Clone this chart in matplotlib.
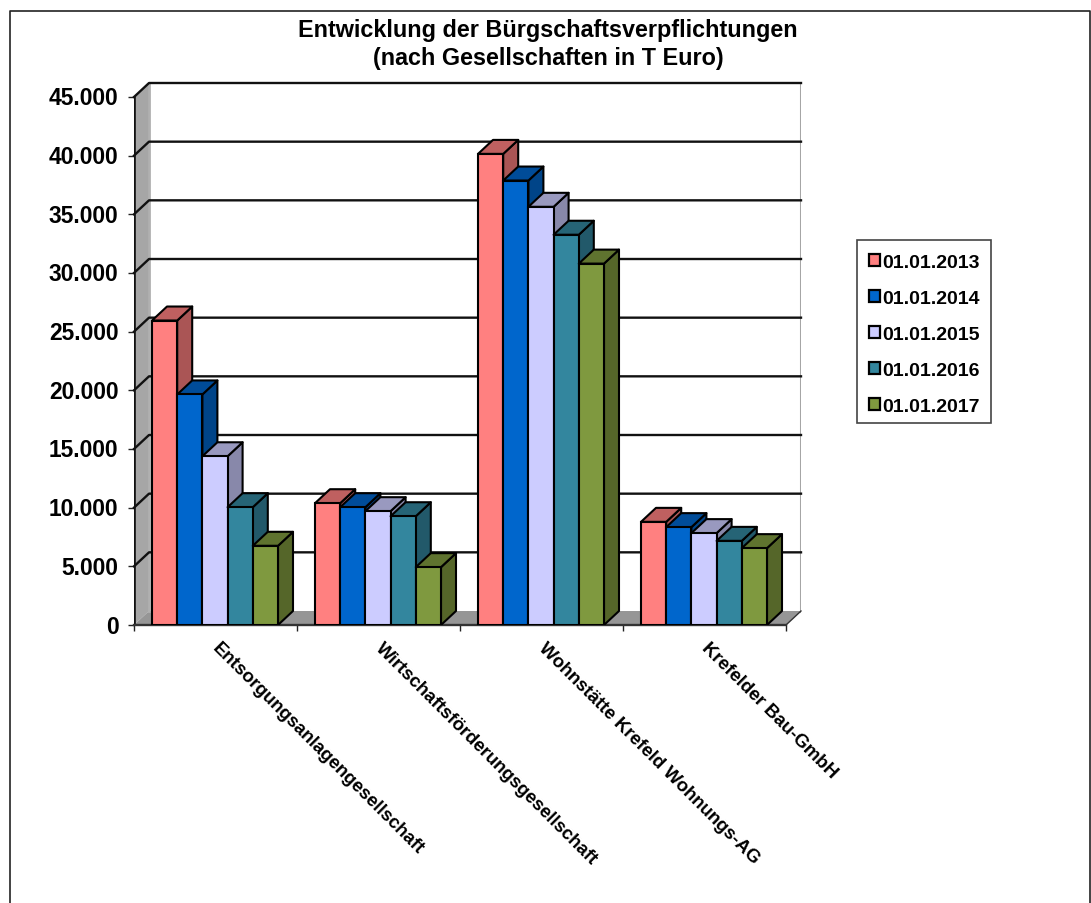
import matplotlib
matplotlib.use('Agg')
import matplotlib.pyplot as plt
from matplotlib.patches import Patch, Polygon, Rectangle
from matplotlib.lines import Line2D
from matplotlib.transforms import ScaledTranslation

plt.rcParams['font.family'] = ['Liberation Sans', 'DejaVu Sans']
plt.rcParams['font.weight'] = 'bold'

categories = ['Entsorgungsanlagengesellschaft', 'Wirtschaftsförderungsgesellschaft',
              'Wohnstätte Krefeld Wohnungs-AG', 'Krefelder Bau-GmbH']
dates = ['01.01.2013', '01.01.2014', '01.01.2015', '01.01.2016', '01.01.2017']
v2013 = [25950, 10380, 40150, 8790]
v2014 = [19650, 10040, 37880, 8340]
v2015 = [14380, 9700, 35640, 7830]
v2016 = [10040, 9270, 33260, 7170]
v2017 = [6750, 4930, 30800, 6550]
values = [v2013, v2014, v2015, v2016, v2017]
yticks = list(range(0, 45001, 5000))
yticklabels = ['0', '5.000', '10.000', '15.000', '20.000', '25.000', '30.000', '35.000', '40.000', '45.000']

front = ['#ff8080', '#0066cc', '#ccccff', '#33869e', '#7f993f']
top = ['#bf6060', '#004c99', '#9999bf', '#266476', '#5f732f']
side = ['#aa5555', '#004488', '#8888aa', '#22596a', '#556629']

W, H = 1091, 904
fig = plt.figure(figsize=(W / 100, H / 100), dpi=100)
# front plane runs 134..786 px, depth adds 15 px right and 14 px up
ax = fig.add_axes([134 / W, 1 - 626 / H, (801 - 134) / W, (626 - 84) / H])
px_y = 528 / 45000
dx = 15 / 163
dy = 14 / px_y
ax.set_xlim(0, 667 / 163)
ax.set_ylim(0, 542 / px_y)
ax.patch.set_visible(False)
for s in ax.spines.values():
    s.set_visible(False)

# walls and floor
ax.add_patch(Polygon([(0, 0), (dx, dy), (dx, 45000 + dy), (0, 45000)], fc='#a6a6a6', ec='none', zorder=1))
ax.add_patch(Polygon([(0, 0), (4, 0), (4 + dx, dy), (dx, dy)], fc='#969696', ec='none', zorder=1))
ax.plot([dx, dx], [dy, 45000 + dy], color='#b0b0b0', lw=2, zorder=1.5)
ax.plot([4 + dx, 4 + dx], [dy, 45000 + dy], color='#a6a6a6', lw=2.2, zorder=1.5)
for t in yticks[1:]:
    ax.plot([0, dx, 4 + dx], [t, t + dy, t + dy], color='#111111', lw=1.7, zorder=2,
            solid_joinstyle='round', clip_on=False)
ax.plot([0, 0], [0, 45000], color='#111111', lw=1.9, zorder=2)
ax.plot([0, 4], [0, 0], color='#333333', lw=1.7, zorder=2, clip_on=False)
ax.plot([4, 4 + dx], [0, dy], color='#333333', lw=1, zorder=2, clip_on=False)

# bars
bw = 25.2 / 163
off = 18 / 163
for c in range(len(categories)):
    for i, vals in enumerate(values):
        x0 = c + off + i * bw
        v = vals[c]
        z = 3 + c + i * 0.1
        ax.add_patch(Polygon([(x0 + bw, 0), (x0 + bw + dx, dy), (x0 + bw + dx, v + dy), (x0 + bw, v)],
                             fc=side[i], ec='black', lw=1.5, zorder=z, joinstyle='round'))
        ax.add_patch(Polygon([(x0, v), (x0 + bw, v), (x0 + bw + dx, v + dy), (x0 + dx, v + dy)],
                             fc=top[i], ec='black', lw=1.5, zorder=z, joinstyle='round'))
        ax.add_patch(Rectangle((x0, 0), bw, v, fc=front[i], ec='black', lw=1.5, zorder=z + 0.01))

ax.set_yticks(yticks)
ax.set_yticklabels(yticklabels, fontsize=16.4, fontweight='bold')
ax.set_xticks(range(5))
ax.set_xticklabels([])
ax.tick_params(axis='y', length=4.3, width=1, pad=7, color='#222222')
ax.tick_params(axis='x', length=4, width=1, color='#222222')
# tick labels sit a touch above their ticks in the original
nudge = ScaledTranslation(0, 1.5 / 100, fig.dpi_scale_trans)
for lab in ax.get_yticklabels():
    lab.set_transform(lab.get_transform() + nudge)

for c, name in enumerate(categories):
    ax.annotate(name, (c + 0.5, 0), xytext=(-0.5, -14.5), textcoords='offset points',
                rotation=-45, rotation_mode='anchor', ha='left', va='center',
                fontsize=13.4, fontweight='bold', annotation_clip=False)

fig.text(548 / W, 1 - 44.5 / H, 'Entwicklung der Bürgschaftsverpflichtungen\n(nach Gesellschaften in T Euro)',
         ha='center', va='center', fontsize=16.8, fontweight='bold', linespacing=1.32)

# legend box drawn apart so the rows can be placed on their own
fig.add_artist(Rectangle((857 / W, 1 - 424 / H), 134 / W, 183 / H, transform=fig.transFigure,
                         fc='white', ec='#444444', lw=1.2))
handles = [Patch(fc=front[i], ec='black', lw=1.6, label=dates[i]) for i in range(5)]
leg = fig.legend(handles=handles, loc='center', bbox_to_anchor=(924 / W, 1 - 335.5 / H),
                 fontsize=14, frameon=False,
                 handlelength=0.57, handleheight=0.57, handletextpad=0.1, labelspacing=0.98,
                 borderpad=0.55, borderaxespad=0)

# chart border, open at the bottom edge
fig.add_artist(Line2D([10 / W, 10 / W, 1089.5 / W, 1089.5 / W], [0, 1 - 12 / H, 1 - 12 / H, 0],
                      color='#222222', lw=1.2))

plt.savefig('out.png', dpi=100)
plt.close()
